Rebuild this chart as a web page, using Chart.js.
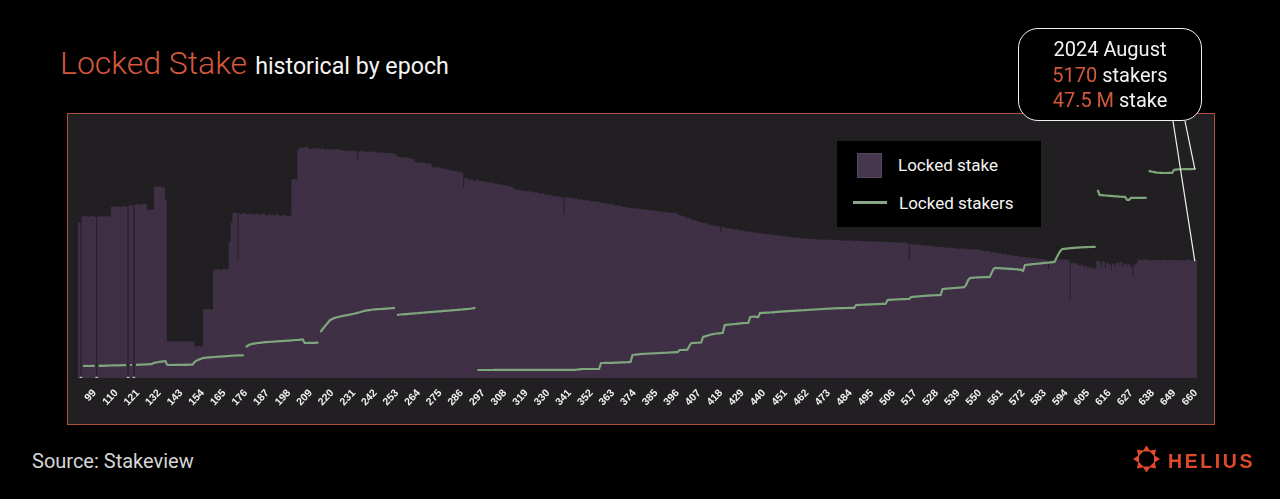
<!DOCTYPE html>
<html>
<head>
<meta charset="utf-8">
<script src="https://cdn.jsdelivr.net/npm/chart.js@4.4.1/dist/chart.umd.min.js"></script>
<style>
  html, body { margin:0; padding:0; background:#000; }
  body { width:1280px; height:499px; position:relative; overflow:hidden; font-family: Roboto, "Noto Sans", sans-serif; }
  #title { position:absolute; left:60px; top:47px; line-height:32px; white-space:nowrap; }
  #title .main { color:#d4583c; font-size:32px; font-weight:300; }
  #title .sub { color:#f4f4f4; font-size:23.2px; font-weight:400; margin-left:8px; }
  #frame { position:absolute; left:67px; top:113px; width:1146px; height:310px; border:1px solid #b0523a; background:#211f21; }
  #frame canvas { position:absolute; left:0; top:0; }
  #legend { position:absolute; left:837px; top:141px; width:204px; height:86px; background:#000; color:#f4f4f4; font-size:17px; }
  #legend .sw { position:absolute; left:20px; top:12px; width:25px; height:25px; background:#46374f; box-sizing:border-box; border:1px solid #55465d; }
  #legend .ln { position:absolute; left:16px; top:60px; width:34px; height:3px; background:#8aa58a; }
  #legend .t1 { position:absolute; left:61px; top:14px; line-height:20px; }
  #legend .t2 { position:absolute; left:62px; top:52px; line-height:20px; }
  #callout { position:absolute; left:1018px; top:28px; width:182px; height:91px; border:1.5px solid #f2f2f2; border-radius:20px; background:#000; }
  #callout .txt { position:absolute; left:0; top:8px; width:182px; text-align:center; color:#f2f2f2; font-size:20px; line-height:25.5px; }
  .hl { color:#d4583c; }
  #source { position:absolute; left:32px; top:451px; font-size:20px; line-height:20px; color:#d6d6d6; }
  #logo { position:absolute; left:1168px; top:451px; font-family:"Liberation Sans", Arial, sans-serif; font-weight:700; font-size:19.5px; line-height:20px; color:#e04a2c; letter-spacing:2.6px; }
  #overlay { position:absolute; left:0; top:0; width:1280px; height:499px; pointer-events:none; }
</style>
</head>
<body>
<div id="title"><span class="main">Locked Stake</span><span class="sub">historical by epoch</span></div>
<div id="frame"><canvas id="c" width="1146" height="310"></canvas></div>
<div id="legend">
  <div class="sw"></div><div class="t1">Locked stake</div>
  <div class="ln"></div><div class="t2">Locked stakers</div>
</div>
<div id="callout"><div class="txt">2024 August<br><span class="hl">5170</span> stakers<br><span class="hl">47.5 M</span> stake</div></div>
<div id="source">Source: Stakeview</div>
<svg id="overlay" width="1280" height="499">
  <line id="leadStake" x1="1173" y1="121" x2="1197" y2="260" stroke="#f2f2f2" stroke-width="1.2"/>
  <line id="leadStakers" x1="1185" y1="121" x2="1197" y2="170" stroke="#f2f2f2" stroke-width="1.2"/>
  <g fill="#e04a2c" transform="translate(1146.5,459)">
    <polygon points="0,-13.5 -4,-7.5 4,-7.5"/>
    <polygon points="0,-13.5 -4,-7.5 4,-7.5" transform="rotate(45)"/>
    <polygon points="0,-13.5 -4,-7.5 4,-7.5" transform="rotate(90)"/>
    <polygon points="0,-13.5 -4,-7.5 4,-7.5" transform="rotate(135)"/>
    <polygon points="0,-13.5 -4,-7.5 4,-7.5" transform="rotate(180)"/>
    <polygon points="0,-13.5 -4,-7.5 4,-7.5" transform="rotate(225)"/>
    <polygon points="0,-13.5 -4,-7.5 4,-7.5" transform="rotate(270)"/>
    <polygon points="0,-13.5 -4,-7.5 4,-7.5" transform="rotate(315)"/>
  </g>
</svg>
<div id="logo">HELIUS</div>

<script>
// ---- data ----
const firstEpoch = 91;
const lastEpoch = 660;
const firstTickEpoch = 99;
const tickEvery = 11;

// Locked stake, millions of SOL, one value per epoch 91..660
const lockedStakeM = [
62.9,0,65.4,65.6,65.4,65.2,65.4,65.6,65.4,0,
65.2,65.4,65.4,65.6,65.4,65.4,65.2,69.4,69.6,69.4,
69.4,69.2,69.4,69.6,69.4,0,69.8,70.0,0,70.2,
70.4,70.2,70.2,70.6,70.2,68.2,68.0,68.2,68.4,77.5,
77.5,77.7,77.3,77.1,72.3,14.6,14.6,14.8,14.6,14.6,
14.6,14.4,14.6,14.6,14.8,14.6,14.6,14.6,14.4,12.6,
12.6,12.8,12.6,12.6,27.6,27.6,27.8,27.6,27.4,43.8,
43.8,44.0,43.6,43.8,44.2,43.8,44.0,55.0,63.0,67.0,
66.8,47.9,66.6,66.2,66.8,66.4,66.0,66.6,66.2,66.4,
66.0,66.4,65.8,66.2,66.6,66.0,65.6,66.2,65.8,66.0,
65.8,66.2,65.6,65.4,65.8,66.0,65.6,65.4,65.8,80.4,
80.6,80.2,92.6,93.4,93.2,93.4,93.8,93.0,92.8,93.0,
93.2,92.6,93.0,92.8,93.0,92.4,92.6,92.8,92.2,92.6,
92.4,92.6,92.8,92.2,92.4,92.0,92.2,91.8,92.2,92.0,
92.2,91.8,88.5,91.8,92.0,91.6,91.8,91.4,91.8,91.6,
91.4,91.8,91.2,91.4,91.2,91.4,91.0,91.2,91.0,91.3,
91.0,90.8,89.8,89.6,89.4,89.6,89.2,89.4,89.0,88.8,
88.6,87.6,87.4,87.2,87.4,87.0,87.2,86.8,87.0,86.6,
85.6,85.4,85.2,85.4,84.8,85.0,84.6,84.8,84.4,84.2,
84.0,83.8,84.0,83.6,83.4,83.2,77.5,81.0,80.4,80.2,
80.4,80.0,79.8,80.2,79.6,79.8,79.4,79.6,79.2,79.0,
79.2,78.8,78.6,78.8,78.4,78.2,78.4,78.0,77.8,77.6,
77.4,77.2,76.4,76.2,76.4,76.0,75.8,76.0,75.6,75.4,
75.6,75.2,75.0,75.2,74.8,74.6,74.8,74.4,74.2,74.0,
74.2,73.8,73.6,73.4,73.6,73.2,73.0,66.2,73.2,73.0,
73.0,72.8,72.6,72.8,72.4,72.2,72.4,72.0,71.8,72.0,
71.8,71.6,71.4,71.6,71.2,71.4,71.0,70.8,71.0,70.6,
70.4,70.6,70.2,70.0,69.8,70.0,69.6,69.4,69.2,69.0,
69.0,68.8,68.6,68.8,68.4,68.6,68.2,68.4,68.0,68.2,
67.8,68.0,67.6,67.8,67.4,67.6,67.2,67.4,67.0,67.2,
67.0,66.8,67.0,66.6,66.8,66.2,66.0,65.6,65.4,65.0,
64.6,64.8,64.2,63.8,64.0,63.4,63.2,63.0,62.8,62.6,
62.4,62.0,61.8,61.6,61.4,61.6,61.2,59.0,61.2,60.8,
60.6,60.4,60.6,60.2,60.0,60.2,59.8,59.6,59.8,59.4,
59.2,59.4,59.0,58.8,59.0,58.6,58.8,58.4,58.6,58.2,
58.4,58.0,58.2,57.8,58.0,57.6,57.8,57.4,57.6,57.2,
57.4,57.0,57.2,57.0,56.8,57.0,56.6,56.8,56.6,56.4,
56.6,56.4,56.2,56.4,56.0,56.2,56.0,55.8,56.0,55.8,
56.0,55.8,56.0,55.8,55.6,55.8,55.6,55.8,55.4,55.6,
55.6,55.4,55.6,55.4,55.6,55.2,55.4,55.6,55.2,55.4,
55.2,55.4,55.0,55.2,55.4,55.0,55.2,55.0,55.2,55.0,
55.2,55.0,54.8,55.0,54.8,55.0,54.6,54.8,54.6,54.8,
54.6,54.8,54.4,47.9,54.2,54.0,53.8,54.0,53.8,53.6,
53.8,53.6,53.4,53.6,53.2,53.4,53.0,53.2,53.0,52.8,
53.0,52.8,52.6,52.8,52.6,52.4,52.6,52.4,52.2,52.4,
52.2,52.4,52.0,52.2,52.0,51.8,52.0,51.8,52.0,51.6,
51.6,51.4,51.2,51.4,51.0,50.8,51.0,50.6,50.4,50.6,
50.2,50.0,50.2,49.8,49.6,49.8,49.4,49.2,49.4,49.0,
48.8,49.0,48.8,48.6,48.8,48.4,48.6,48.2,48.4,48.0,
48.2,47.8,48.0,47.6,43.8,47.4,47.6,47.2,47.9,47.8,
48.0,47.8,47.9,48.0,47.6,31.7,46.6,46.2,46.4,45.8,
45.4,45.8,44.8,45.2,44.2,44.8,44.0,44.6,44.2,47.4,
46.8,45.2,47.2,44.6,46.4,45.8,43.6,46.2,45.0,46.6,
45.6,46.8,44.8,46.2,45.4,46.0,44.8,41.0,45.8,46.4,
47.6,47.8,47.4,47.9,47.6,47.8,47.4,47.6,47.8,47.5,
47.7,47.4,47.6,47.8,47.5,47.7,47.4,47.6,47.8,47.5,
47.6,47.4,47.7,47.5,47.6,47.8,47.5,47.4,47.6,47.5
];

// Locked stakers (count), one value per epoch 91..660
const lockedStakers = [
272,0,297,297,299,297,300,300,302,0,
302,304,302,305,307,307,309,310,312,312,
314,314,317,317,319,0,322,322,0,324,
327,329,332,334,337,339,342,344,371,380,
390,398,405,412,420,322,322,324,322,324,
324,327,324,327,329,327,329,332,334,400,
430,455,470,495,500,505,508,512,515,520,
524,527,530,534,537,540,544,547,550,553,
556,558,559,560,560,767,800,825,840,850,
858,866,870,875,880,885,890,893,896,900,
903,906,910,913,916,920,923,926,930,933,
936,940,945,950,955,866,866,870,868,872,
870,874,876,1138,1200,1260,1320,1380,1435,1460,
1480,1495,1510,1520,1530,1540,1550,1559,1568,1578,
1588,1600,1612,1625,1640,1658,1665,1672,1680,1688,
1694,1698,1702,1705,1707,1710,1714,1718,1722,1725,
1728,1732,1559,1565,1570,1574,1578,1582,1586,1590,
1594,1598,1602,1606,1610,1614,1618,1622,1626,1630,
1634,1638,1642,1646,1650,1654,1658,1662,1666,1670,
1674,1678,1682,1686,1690,1694,1698,1702,1706,1712,
1718,1726,1732,198,198,198,198,198,198,198,
198,198,200,200,200,200,200,200,200,200,
200,200,200,200,200,200,200,200,200,200,
200,200,200,200,200,200,200,200,200,200,
200,200,200,200,200,200,200,200,200,200,
200,200,200,200,210,215,220,222,223,223,
223,223,223,223,223,223,371,371,373,373,
374,375,376,378,380,382,384,386,388,390,
392,395,569,575,580,585,590,595,598,600,
603,606,608,610,612,615,618,620,622,625,
628,630,632,635,638,640,693,693,695,695,
700,792,866,866,870,872,875,878,1014,1030,
1045,1060,1075,1085,1095,1100,1105,1110,1113,1311,
1315,1320,1325,1330,1335,1340,1345,1350,1355,1358,
1360,1361,1509,1515,1520,1510,1505,1608,1610,1612,
1615,1617,1620,1622,1625,1633,1636,1640,1643,1646,
1649,1652,1655,1658,1661,1664,1667,1670,1673,1676,
1679,1682,1685,1688,1691,1694,1697,1700,1703,1706,
1709,1712,1715,1718,1720,1722,1724,1726,1728,1730,
1730,1731,1732,1732,1733,1733,1806,1808,1810,1812,
1814,1816,1818,1820,1822,1824,1826,1828,1830,1832,
1834,1836,1930,1933,1936,1939,1942,1945,1948,1951,
1952,1953,1954,1954,2004,2008,2012,2016,2020,2024,
2028,2032,2035,2038,2041,2044,2047,2050,2052,2053,
2202,2206,2210,2214,2218,2222,2226,2230,2234,2238,
2242,2246,2300,2420,2474,2478,2482,2485,2488,2490,
2492,2494,2495,2497,2499,2600,2700,2721,2718,2715,
2712,2709,2706,2703,2700,2697,2694,2690,2686,2682,
2676,2650,2796,2800,2805,2810,2815,2820,2825,2830,
2835,2840,2845,2850,2855,2860,2865,2870,2969,3060,
3140,3191,3195,3200,3205,3210,3214,3218,3222,3226,
3229,3232,3234,3236,3238,3240,3241,3241,3241,4651,
4527,4522,4518,4514,4510,4506,4502,4498,4494,4490,
4486,4482,4480,4478,4404,4404,4453,4453,4455,4455,
4455,4456,4456,4457,4457,5121,5110,5100,5090,5080,
5076,5072,5072,5070,5070,5072,5072,5072,5150,5155,
5158,5160,5162,5164,5165,5166,5167,5168,5169,5170
];

const epochs = [];
for (let e = firstEpoch; e <= lastEpoch; e++) epochs.push(e);

// ---- chart ----
const leaderPlugin = {
  id: 'leaders',
  afterDraw(chart) {
    const rect = chart.canvas.getBoundingClientRect();
    const lineEl = chart.getDatasetMeta(0).data;
    const barEl = chart.getDatasetMeta(1).data;
    const lp = lineEl[lineEl.length - 1];
    const bp = barEl[barEl.length - 1];
    const a = document.getElementById('leadStakers');
    const b = document.getElementById('leadStake');
    a.setAttribute('x2', rect.left + lp.x - 1);
    a.setAttribute('y2', rect.top + lp.y);
    b.setAttribute('x2', rect.left + bp.x - 1);
    b.setAttribute('y2', rect.top + bp.y);
  }
};

new Chart(document.getElementById('c'), {
  data: {
    labels: epochs,
    datasets: [
      {
        type: 'line',
        label: 'Locked stakers',
        data: lockedStakers,
        yAxisID: 'yStakers',
        borderColor: '#7ea67c',
        borderWidth: 2.2,
        tension: 0,
        order: 0,
        pointRadius: c => (c.raw === 0 ? 1.6 : 0),
        pointBackgroundColor: '#a9c2a6',
        pointBorderWidth: 0,
        segment: {
          borderColor: c => {
            const a = c.p0.parsed.y, b = c.p1.parsed.y;
            if (a === 0 || b === 0) return 'rgba(0,0,0,0)';
            const d = b - a;
            if (d < -150 || d > 200) return 'rgba(0,0,0,0)';
            return undefined;
          }
        }
      },
      {
        type: 'bar',
        label: 'Locked stake',
        data: lockedStakeM,
        yAxisID: 'yStake',
        backgroundColor: '#3f3046',
        borderWidth: 0,
        inflateAmount: 0.5,
        barPercentage: 1,
        categoryPercentage: 1,
        order: 1
      }
    ]
  },
  options: {
    responsive: false,
    animation: false,
    layout: { padding: { left: 10, right: 15, top: 4, bottom: 0 } },
    plugins: { legend: { display: false }, tooltip: { enabled: false } },
    scales: {
      x: {
        grid: { display: false, drawTicks: false },
        border: { display: false },
        ticks: {
          autoSkip: false,
          minRotation: 47,
          maxRotation: 47,
          padding: 9,
          color: '#f0f0f0',
          font: { family: '"Liberation Sans", Arial, sans-serif', size: 10.5, weight: 'bold' },
          callback: function (v, i) {
            const e = epochs[i];
            return (e - firstTickEpoch) % tickEvery === 0 && e >= firstTickEpoch ? String(e) : '';
          }
        },
        afterFit: s => { s.height = 46; }
      },
      yStake: { display: false, min: 0, max: 105.6 },
      yStakers: { display: false, min: 0, max: 6430, position: 'right' }
    }
  },
  plugins: [leaderPlugin]
});
</script>
</body>
</html>
